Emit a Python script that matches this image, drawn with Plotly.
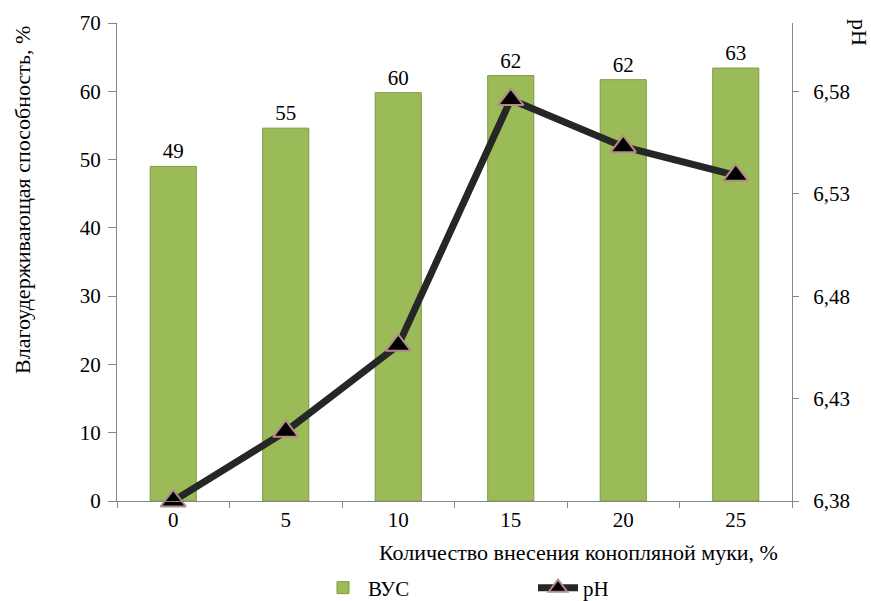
import plotly.graph_objects as go

categories = ["0", "5", "10", "15", "20", "25"]
vus = [49.0, 54.6, 59.8, 62.3, 61.7, 63.4]
vus_labels = ["49", "55", "60", "62", "62", "63"]
ph = [6.38, 6.414, 6.456, 6.576, 6.553, 6.539]
ph_ticks = [6.38, 6.43, 6.48, 6.53, 6.58]
ph_ticktext = ["6,38", "6,43", "6,48", "6,53", "6,58"]

FONT = "Times New Roman, Liberation Serif, DejaVu Serif, serif"
AX = "#868686"
W, H = 871, 601

fig = go.Figure()
fig.add_trace(go.Bar(
    x=categories, y=vus, name="ВУС",
    text=vus_labels, textposition="outside", cliponaxis=False,
    textfont=dict(family=FONT, size=21, color="#000000"),
    marker=dict(color="#9BBB59", line=dict(color="#7E9C42", width=1)),
    yaxis="y",
))
fig.add_trace(go.Scatter(
    x=categories, y=ph, name="pH", mode="lines+markers",
    line=dict(color="#262626", width=7),
    marker=dict(symbol="triangle-up", size=22, color="#000000",
                line=dict(color="#B48A8A", width=2)),
    yaxis="y2", cliponaxis=False,
))

fig.update_layout(
    width=W, height=H,
    margin=dict(l=117, r=79, t=23, b=100, autoexpand=False),
    paper_bgcolor="white", plot_bgcolor="white",
    font=dict(family=FONT, size=21, color="#000000"),
    bargap=0.59,
    showlegend=True,
    legend=dict(orientation="h", xref="container", x=318 / W, xanchor="left",
                yref="container", y=(H - 588) / H, yanchor="middle",
                font=dict(family=FONT, size=21), entrywidth=160, entrywidthmode="pixels",
                itemwidth=40),
    xaxis=dict(
        type="category", showline=True, linecolor=AX, linewidth=1,
        ticks="outside", tickcolor=AX, ticklen=6, showgrid=False,
        tickson="boundaries",
        tickfont=dict(family=FONT, size=21),
    ),
    yaxis=dict(
        range=[0, 70], dtick=10, showline=True, linecolor=AX, linewidth=1,
        ticks="outside", tickcolor=AX, ticklen=8, showgrid=False, zeroline=False,
        tickfont=dict(family=FONT, size=21), ticklabelstandoff=3,
    ),
    yaxis2=dict(
        overlaying="y", side="right", range=[6.38, 6.6134],
        tickvals=ph_ticks, ticktext=ph_ticktext,
        showline=True, linecolor=AX, linewidth=1,
        ticks="outside", tickcolor=AX, ticklen=6, showgrid=False, zeroline=False,
        tickfont=dict(family=FONT, size=21), ticklabelstandoff=10,
    ),
    annotations=[
        dict(text="Количество внесения конопляной муки, %", xref="paper", yref="paper",
             x=(578 - 117) / 675, y=(501 - 552) / 478, xanchor="center", yanchor="middle",
             showarrow=False, font=dict(family=FONT, size=22)),
        dict(text="Влагоудерживающая способность, %", xref="paper", yref="paper",
             x=(22 - 117) / 675, y=(501 - 200) / 478, xanchor="center", yanchor="middle",
             textangle=-90, showarrow=False, font=dict(family=FONT, size=22)),
        dict(text="pH", xref="paper", yref="paper",
             x=(860 - 117) / 675, y=(501 - 32) / 478, xanchor="center", yanchor="middle",
             textangle=90, showarrow=False, font=dict(family=FONT, size=22)),
    ],
)

fig.write_html("out.html")
